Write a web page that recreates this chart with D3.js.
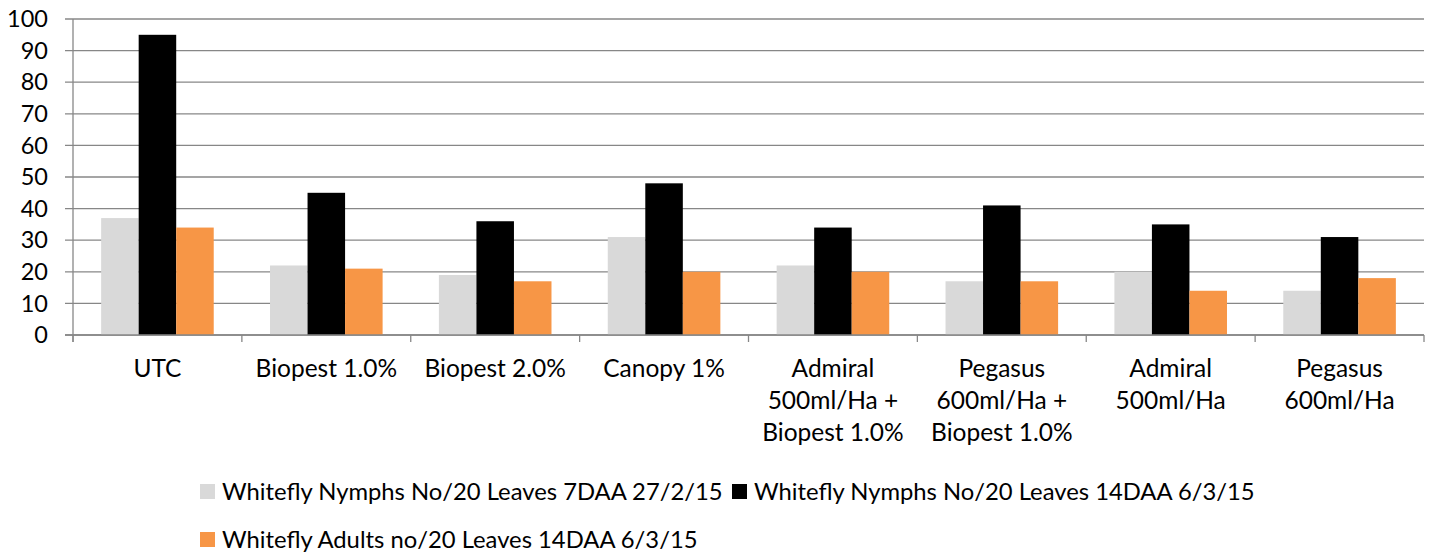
<!DOCTYPE html>
<html><head><meta charset="utf-8">
<script src="https://cdn.jsdelivr.net/npm/d3@7"></script>
<style>body{margin:0;background:#fff}svg{display:block}text{font-family:Lato,sans-serif;fill:#000}</style>
</head><body><svg id="c" width="1432" height="553"></svg>
<script>
const categories = [["UTC"],["Biopest 1.0%"],["Biopest 2.0%"],["Canopy 1%"],["Admiral","500ml/Ha +","Biopest 1.0%"],["Pegasus","600ml/Ha +","Biopest 1.0%"],["Admiral","500ml/Ha"],["Pegasus","600ml/Ha"]];
const seriesNames = ["Whitefly Nymphs No/20 Leaves 7DAA 27/2/15","Whitefly Nymphs No/20 Leaves 14DAA 6/3/15","Whitefly Adults no/20 Leaves 14DAA 6/3/15"];
const nymphs7 = [37,22,19,31,22,17,20,14];
const nymphs14 = [95,45,36,48,34,41,35,31];
const adults14 = [34,21,17,20,20,17,14,18];
const yTicks = [0,10,20,30,40,50,60,70,80,90,100];
const colors = ["#d9d9d9","#000000","#f79646"];

const series = [nymphs7,nymphs14,adults14];
const svg = d3.select("#c");
const L=73,R=1424,T=19,B=335;
const x = d3.scaleBand().domain(d3.range(categories.length)).range([L,R]).paddingInner(0).paddingOuter(0);
const y = d3.scaleLinear().domain([0,100]).range([B,T]);
const bw = x.bandwidth()/4.5;
const inner = d3.scaleBand().domain([0,1,2]).range([0,bw*3]);

svg.append("g").selectAll("line").data(yTicks).join("line")
  .attr("x1",L-8).attr("x2",R).attr("y1",d=>y(d)).attr("y2",d=>y(d))
  .attr("stroke","#878787").attr("stroke-width",1.3);

series.forEach((s,si)=>{
  svg.append("g").selectAll("rect").data(s).join("rect")
    .attr("x",(d,i)=>x(i)+(x.bandwidth()-bw*3)/2+inner(si))
    .attr("width",bw)
    .attr("y",d=>y(d)).attr("height",d=>B-y(d))
    .attr("fill",colors[si]);
});

svg.append("line").attr("x1",L).attr("x2",L).attr("y1",T).attr("y2",B+7).attr("stroke","#878787").attr("stroke-width",1.3);
svg.append("line").attr("x1",L-8).attr("x2",R).attr("y1",B).attr("y2",B).attr("stroke","#878787").attr("stroke-width",1.3);
svg.append("g").selectAll("line").data(d3.range(categories.length+1)).join("line")
  .attr("x1",i=>L+i*x.bandwidth()).attr("x2",i=>L+i*x.bandwidth()).attr("y1",B).attr("y2",B+7)
  .attr("stroke","#878787").attr("stroke-width",1.3);

svg.append("g").selectAll("text").data(yTicks).join("text")
  .attr("x",48).attr("y",d=>y(d)).attr("dy","0.35em").attr("text-anchor","end")
  .style("font-size","23.5px").text(d=>d);

const xl = svg.append("g").selectAll("text").data(categories).join("text")
  .attr("text-anchor","middle").style("font-size","24.5px")
  .attr("transform",(d,i)=>`translate(${x(i)+x.bandwidth()/2},0)`);
xl.selectAll("tspan").data(d=>d).join("tspan").attr("x",0).attr("y",(d,j)=>377+j*32).text(d=>d);

const leg = [{i:0,x:200,y:491.5},{i:1,x:732,y:491.5},{i:2,x:200,y:539.5}];
leg.forEach(l=>{
  svg.append("rect").attr("x",l.x).attr("y",l.y-7.5).attr("width",15).attr("height",15).attr("fill",colors[l.i]);
  svg.append("text").attr("x",l.x+22).attr("y",l.y).attr("dy","0.36em").style("font-size","23.8px").text(seriesNames[l.i]);
});
</script></body></html>
